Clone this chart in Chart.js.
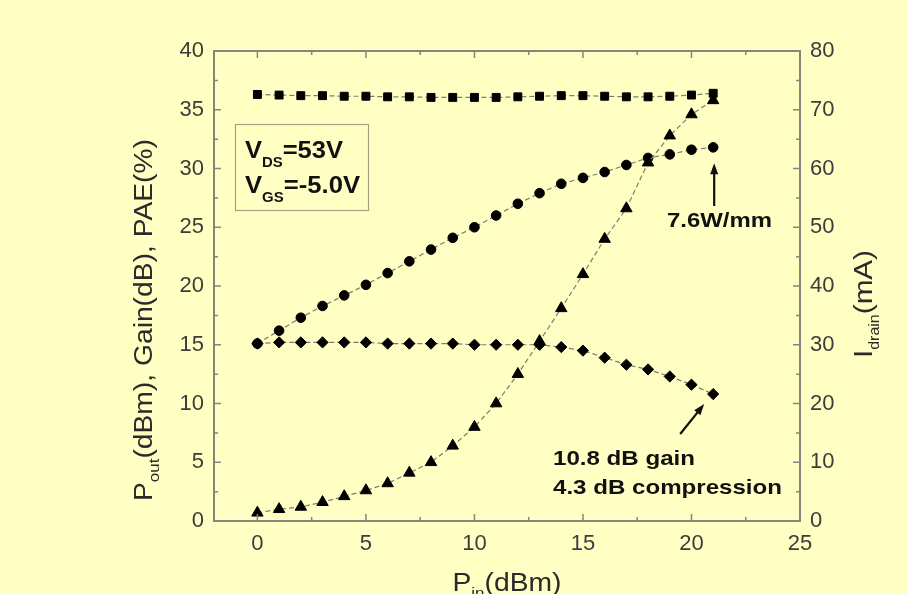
<!DOCTYPE html>
<html>
<head>
<meta charset="utf-8">
<script src="https://cdn.jsdelivr.net/npm/chart.js@4.4.0/dist/chart.umd.min.js"></script>
<style>
  html, body { margin: 0; padding: 0; background: #ffffc3; }
  canvas { display: block; }
</style>
</head>
<body>
<canvas id="chart" width="907" height="594"></canvas>
<script>
// input power, dBm
const pin = [0, 1, 2, 3, 4, 5, 6, 7, 8, 9, 10, 11, 12, 13, 14, 15, 16, 17, 18, 19, 20, 21];
// drain current, mA (right axis)
const idrain = [72.6, 72.5, 72.4, 72.4, 72.3, 72.3, 72.2, 72.2, 72.1, 72.1, 72.1, 72.1, 72.2, 72.3, 72.4, 72.4, 72.3, 72.2, 72.2, 72.3, 72.5, 72.8];
// output power, dBm
const pout = [15.1, 16.2, 17.3, 18.3, 19.2, 20.1, 21.1, 22.1, 23.1, 24.1, 25.0, 26.0, 27.0, 27.9, 28.7, 29.2, 29.7, 30.3, 30.9, 31.2, 31.6, 31.8];
// gain, dB
const gain = [15.1, 15.2, 15.2, 15.2, 15.2, 15.2, 15.1, 15.1, 15.1, 15.1, 15.0, 15.0, 15.0, 15.0, 14.8, 14.5, 13.9, 13.3, 12.9, 12.3, 11.6, 10.8];
// power added efficiency, %
const pae = [0.7, 1.0, 1.2, 1.6, 2.1, 2.6, 3.2, 4.1, 5.0, 6.4, 8.0, 10.0, 12.5, 15.3, 18.1, 21.0, 24.0, 26.6, 30.5, 32.8, 34.6, 35.8];

const xTicks = [0, 5, 10, 15, 20, 25];
const leftTicks = [0, 5, 10, 15, 20, 25, 30, 35, 40];
const rightTicks = [0, 10, 20, 30, 40, 50, 60, 70, 80];

const FONT = '"Liberation Sans", Arial, sans-serif';
const AXIS = '#85857c';
const LABEL = '#3c3c3c';

const ctx = document.getElementById('chart').getContext('2d');

function pts(ys) {
    return pin.map((x, i) => ({ x: x, y: ys[i] }));
}

function series(label, ys, style, radius, axis, order) {
    return {
        label: label,
        data: pts(ys),
        yAxisID: axis,
        order: order,
        pointStyle: style,
        pointRadius: radius,
        pointBackgroundColor: '#000',
        pointBorderColor: '#000',
        pointBorderWidth: 1,
        borderColor: '#7c7c74',
        borderWidth: 1.2,
        borderDash: [5, 3],
        fill: false,
        tension: 0
    };
}

// text with subscripts, optionally stretched to a given width
function richText(c, parts, x, y, o) {
    const f = s => (o.bold ? 'bold ' : '') + s + 'px ' + FONT;
    const widths = parts.map(p => { c.font = f(p.sub ? o.sub : o.size); return c.measureText(p.t).width; });
    const w = widths.reduce((a, b) => a + b, 0);
    const sx = o.fit ? o.fit / w : 1;
    c.save();
    c.translate(x, y);
    c.scale(sx, 1);
    c.fillStyle = o.color || '#111';
    c.textAlign = 'left';
    c.textBaseline = 'alphabetic';
    let cur = o.center ? -w / 2 : 0;
    parts.forEach((p, i) => {
        c.font = f(p.sub ? o.sub : o.size);
        c.fillText(p.t, cur, p.sub ? o.drop : 0);
        cur += widths[i];
    });
    c.restore();
}

function arrow(c, x1, y1, x2, y2) {
    const a = Math.atan2(y2 - y1, x2 - x1);
    c.save();
    c.strokeStyle = '#111';
    c.fillStyle = '#111';
    c.lineWidth = 2.2;
    c.beginPath();
    c.moveTo(x1, y1);
    c.lineTo(x2 - 8 * Math.cos(a), y2 - 8 * Math.sin(a));
    c.stroke();
    c.beginPath();
    c.moveTo(x2, y2);
    c.lineTo(x2 - 11 * Math.cos(a) + 4 * Math.sin(a), y2 - 11 * Math.sin(a) - 4 * Math.cos(a));
    c.lineTo(x2 - 11 * Math.cos(a) - 4 * Math.sin(a), y2 - 11 * Math.sin(a) + 4 * Math.cos(a));
    c.closePath();
    c.fill();
    c.restore();
}

const background = {
    id: 'background',
    beforeDraw(chart) {
        const c = chart.ctx;
        c.save();
        c.fillStyle = '#ffffc3';
        c.fillRect(0, 0, chart.width, chart.height);
        c.restore();
    }
};

const frame = {
    id: 'frame',
    afterDraw(chart) {
        const c = chart.ctx;
        const { left, right, top, bottom } = chart.chartArea;
        const xs = chart.scales.x, ys = chart.scales.y, y2 = chart.scales.y2;
        c.save();
        c.strokeStyle = AXIS;
        c.lineWidth = 2;
        c.strokeRect(left, top, right - left, bottom - top);

        // inward ticks, major and minor
        c.lineWidth = 1.5;
        c.beginPath();
        for (let v = 0; v <= 25; v += 2.5) {
            const px = xs.getPixelForValue(v);
            const len = v % 5 === 0 ? 7 : 4;
            c.moveTo(px, bottom); c.lineTo(px, bottom - len);
            c.moveTo(px, top); c.lineTo(px, top + len);
        }
        for (let v = 2.5; v < 40; v += 2.5) {
            const py = ys.getPixelForValue(v);
            const len = v % 5 === 0 ? 7 : 4;
            c.moveTo(left, py); c.lineTo(left + len, py);
        }
        for (let v = 5; v < 80; v += 5) {
            const py = y2.getPixelForValue(v);
            const len = v % 10 === 0 ? 7 : 4;
            c.moveTo(right, py); c.lineTo(right - len, py);
        }
        c.stroke();

        // bias box
        c.strokeStyle = '#a8a07a';
        c.lineWidth = 1.2;
        c.strokeRect(235.5, 124.5, 133, 86);
        c.restore();

        richText(c, [{ t: 'V' }, { t: 'DS', sub: true }, { t: '=53V' }], 245, 158,
            { size: 24, sub: 14, drop: 9, bold: true, fit: 98 });
        richText(c, [{ t: 'V' }, { t: 'GS', sub: true }, { t: '=-5.0V' }], 245, 193,
            { size: 24, sub: 14, drop: 9, bold: true, fit: 115 });

        // annotations at the last point
        const xEnd = xs.getPixelForValue(pin[pin.length - 1]);
        const yPout = ys.getPixelForValue(pout[pout.length - 1]);
        const yGain = ys.getPixelForValue(gain[gain.length - 1]);
        arrow(c, xEnd + 1, 206, xEnd + 1, yPout + 16);
        richText(c, [{ t: '7.6W/mm' }], 667, 227, { size: 21, bold: true, fit: 105 });
        arrow(c, xEnd - 33, 434, xEnd - 9, yGain + 10);
        richText(c, [{ t: '10.8 dB gain' }], 553, 465, { size: 21, bold: true, fit: 142 });
        richText(c, [{ t: '4.3 dB compression' }], 553, 494, { size: 21, bold: true, fit: 229 });

        // axis titles
        c.save();
        c.translate(152, 320);
        c.rotate(-Math.PI / 2);
        richText(c, [{ t: 'P' }, { t: 'out', sub: true }, { t: '(dBm), Gain(dB), PAE(%)' }], 0, 0,
            { size: 25, sub: 15, drop: 7, center: true, fit: 362, color: '#2a2a2a' });
        c.restore();

        c.save();
        c.translate(872, 304);
        c.rotate(-Math.PI / 2);
        richText(c, [{ t: 'I' }, { t: 'drain', sub: true }, { t: '(mA)' }], 0, 0,
            { size: 26, sub: 14, drop: 7, center: true, fit: 108, color: '#2a2a2a' });
        c.restore();

        richText(c, [{ t: 'P' }, { t: 'in', sub: true }, { t: '(dBm)' }], 507, 591,
            { size: 25, sub: 15, drop: 7, center: true, fit: 109, color: '#2a2a2a' });
    }
};

const tickFont = { family: FONT, size: 22 };

new Chart(ctx, {
    type: 'line',
    data: {
        datasets: [
            series('Idrain', idrain, 'rect', 5.6, 'y2', 3),
            series('Pout', pout, 'circle', 4.8, 'y', 2),
            series('PAE', pae, 'triangle', 6.6, 'y', 1),
            series('Gain', gain, 'rectRot', 5.6, 'y', 0)
        ]
    },
    options: {
        responsive: false,
        animation: false,
        events: [],
        layout: { padding: { top: 51, left: 0, right: 0, bottom: 0 } },
        plugins: { legend: { display: false }, tooltip: { enabled: false } },
        scales: {
            x: {
                type: 'linear',
                min: -2,
                max: 25,
                afterBuildTicks: s => { s.ticks = xTicks.map(v => ({ value: v })); },
                afterFit: s => { s.height = 73; },
                ticks: { font: tickFont, color: LABEL, padding: 10, autoSkip: false, maxRotation: 0 },
                grid: { display: false, drawTicks: false },
                border: { display: false }
            },
            y: {
                position: 'left',
                min: 0,
                max: 40,
                afterBuildTicks: s => { s.ticks = leftTicks.map(v => ({ value: v })); },
                afterFit: s => { s.width = 214; },
                ticks: { font: tickFont, color: LABEL, padding: 10, autoSkip: false },
                grid: { display: false, drawTicks: false },
                border: { display: false }
            },
            y2: {
                position: 'right',
                min: 0,
                max: 80,
                afterBuildTicks: s => { s.ticks = rightTicks.map(v => ({ value: v })); },
                afterFit: s => { s.width = 107; },
                ticks: { font: tickFont, color: LABEL, padding: 10, autoSkip: false },
                grid: { display: false, drawTicks: false },
                border: { display: false }
            }
        }
    },
    plugins: [background, frame]
});
</script>
</body>
</html>
